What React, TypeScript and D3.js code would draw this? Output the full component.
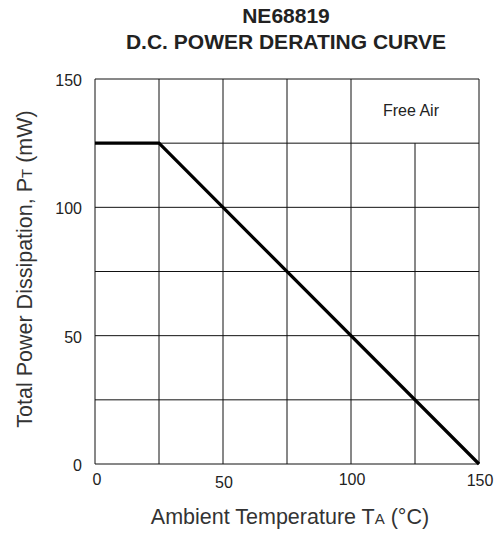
import React from "react";
import * as d3 from "d3";

const curveTemp = [0, 25, 150];
const curvePower = [125, 125, 0];
const xTicks = [0, 50, 100, 150];
const yTicks = [0, 50, 100, 150];
const xGrid = [0, 25, 50, 75, 100, 125, 150];
const yGrid = [0, 25, 50, 75, 100, 125, 150];

export default function App() {
  const W = 501, H = 533;
  const x = d3.scaleLinear().domain([0, 150]).range([95, 479]);
  const y = d3.scaleLinear().domain([0, 150]).range([464, 79]);
  const line = d3.line<number>().x((d, i) => x(curveTemp[i])).y((d) => y(d));
  const font = "'Liberation Sans', Arial, sans-serif";
  const xLabelDx: Record<number, number> = { 0: 2, 50: 1, 100: 1, 150: 1 };
  const xLabelY: Record<number, number> = { 0: 485, 50: 488, 100: 485, 150: 486 };
  return (
    <svg width={W} height={H} style={{ position: "absolute", left: 0, top: 0 }} fontFamily={font}>
      <rect width={W} height={H} fill="#fff" />
      <text x={286} y={23} textAnchor="middle" fontSize={21} fontWeight="bold" fill="#222">NE68819</text>
      <text x={286} y={49} textAnchor="middle" fontSize={21} fontWeight="bold" fill="#222">D.C. POWER DERATING CURVE</text>
      {xGrid.map((v) => (
        <line key={"vx" + v} x1={x(v)} x2={x(v)} y1={v === 125 ? y(125) : y(150)} y2={y(0)} stroke="#111" strokeWidth={1} />
      ))}
      {yGrid.map((v) => (
        <line key={"hy" + v} x1={x(0)} x2={x(150)} y1={y(v)} y2={y(v)} stroke="#111" strokeWidth={1} />
      ))}
      <path d={line(curvePower) || ""} fill="none" stroke="#000" strokeWidth={3.2} />
      <text x={411} y={116} textAnchor="middle" fontSize={16} fill="#222">Free Air</text>
      {yTicks.map((v) => (
        <text key={"yt" + v} x={82} y={y(v) + 7} textAnchor="end" fontSize={16} fill="#222">{v}</text>
      ))}
      {xTicks.map((v) => (
        <text key={"xt" + v} x={x(v) + xLabelDx[v]} y={xLabelY[v]} textAnchor="middle" fontSize={16} fill="#222">{v}</text>
      ))}
      <text x={290} y={524} textAnchor="middle" fontSize={21.5} fill="#333">
        Ambient Temperature T<tspan fontSize={15}>A</tspan> (°C)
      </text>
      <text transform="translate(32,269) rotate(-90)" textAnchor="middle" fontSize={21.5} fill="#333">
        Total Power Dissipation, P<tspan fontSize={15}>T</tspan> (mW)
      </text>
    </svg>
  );
}
